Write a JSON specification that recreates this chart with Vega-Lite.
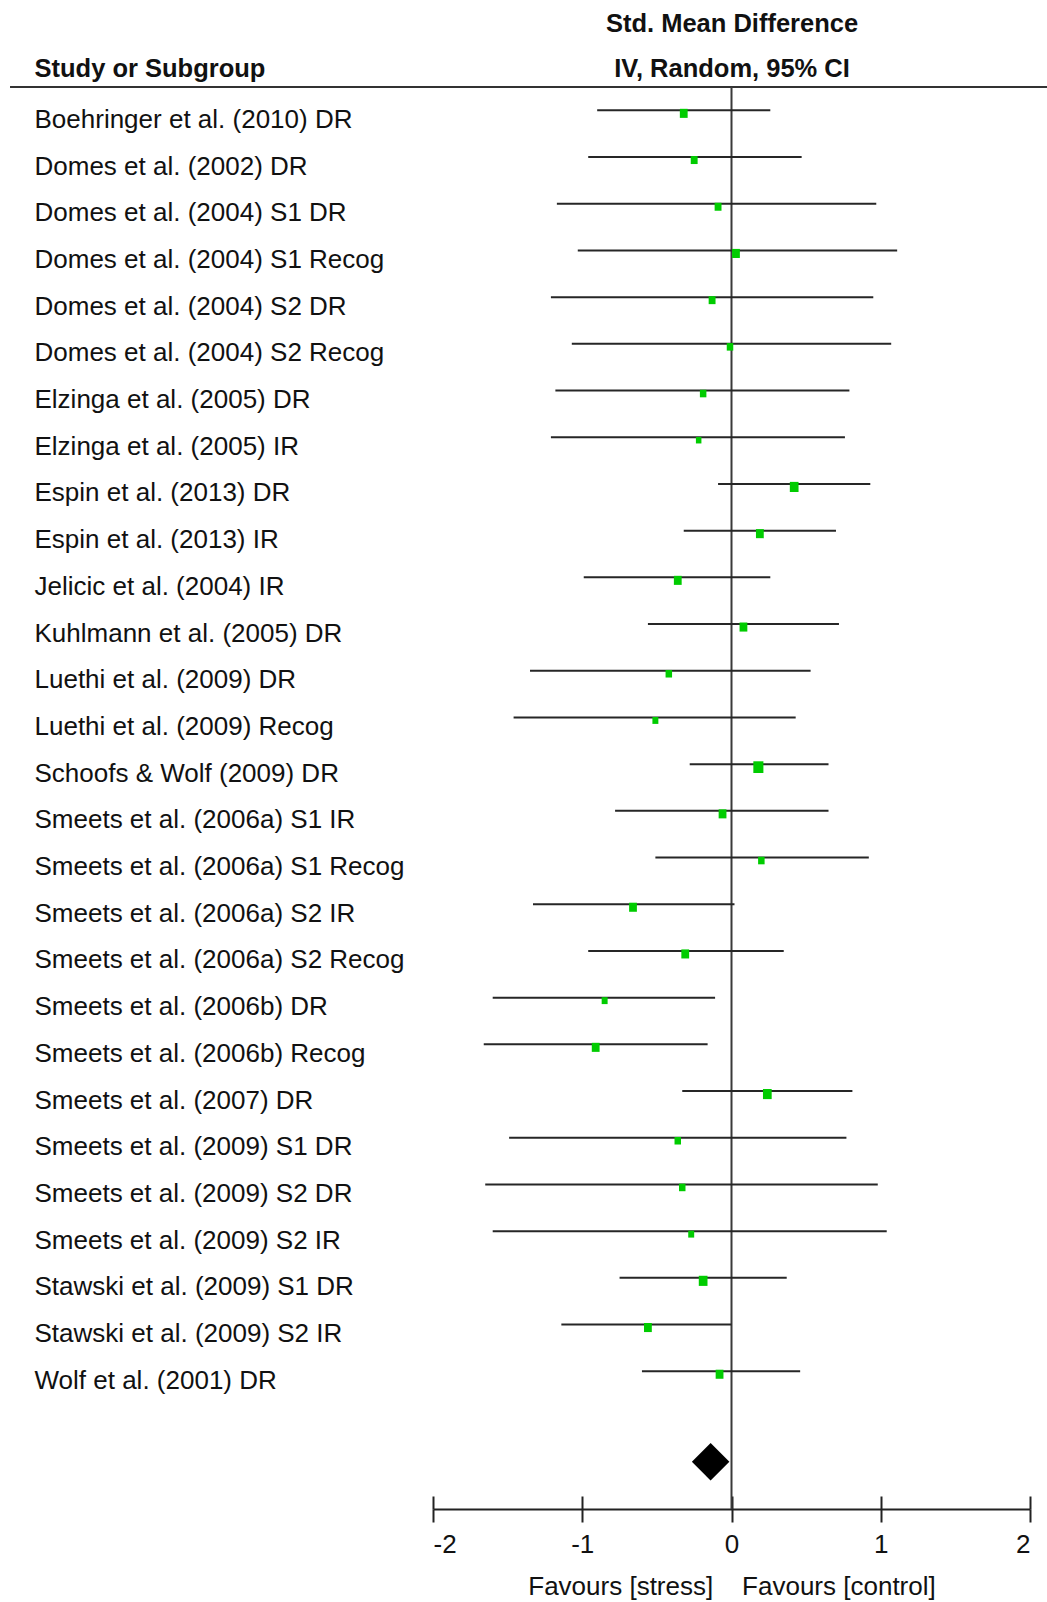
{
  "$schema": "https://vega.github.io/schema/vega-lite/v6.json",
  "width": 597,
  "height": 1422,
  "autosize": {"type": "none"},
  "padding": {"left": 433, "top": 87, "right": 17, "bottom": 93},
  "background": "white",
  "config": {"view": {"stroke": null}, "font": "Liberation Sans"},
  "datasets": {
    "studies": [
      {"study": "Boehringer et al. (2010) DR", "smd": -0.32, "lower": -0.90, "upper": 0.26, "weight": 3.6},
      {"study": "Domes et al. (2002) DR", "smd": -0.25, "lower": -0.96, "upper": 0.47, "weight": 2.8},
      {"study": "Domes et al. (2004) S1 DR", "smd": -0.09, "lower": -1.17, "upper": 0.97, "weight": 2.8},
      {"study": "Domes et al. (2004) S1 Recog", "smd": 0.03, "lower": -1.03, "upper": 1.11, "weight": 3.6},
      {"study": "Domes et al. (2004) S2 DR", "smd": -0.13, "lower": -1.21, "upper": 0.95, "weight": 2.8},
      {"study": "Domes et al. (2004) S2 Recog", "smd": -0.01, "lower": -1.07, "upper": 1.07, "weight": 2.5},
      {"study": "Elzinga et al. (2005) DR", "smd": -0.19, "lower": -1.18, "upper": 0.79, "weight": 2.5},
      {"study": "Elzinga et al. (2005) IR", "smd": -0.22, "lower": -1.21, "upper": 0.76, "weight": 1.8},
      {"study": "Espin et al. (2013) DR", "smd": 0.42, "lower": -0.09, "upper": 0.93, "weight": 4.5},
      {"study": "Espin et al. (2013) IR", "smd": 0.19, "lower": -0.32, "upper": 0.70, "weight": 3.6},
      {"study": "Jelicic et al. (2004) IR", "smd": -0.36, "lower": -0.99, "upper": 0.26, "weight": 3.6},
      {"study": "Kuhlmann et al. (2005) DR", "smd": 0.08, "lower": -0.56, "upper": 0.72, "weight": 3.6},
      {"study": "Luethi et al. (2009) DR", "smd": -0.42, "lower": -1.35, "upper": 0.53, "weight": 2.5},
      {"study": "Luethi et al. (2009) Recog", "smd": -0.51, "lower": -1.46, "upper": 0.43, "weight": 2.1},
      {"study": "Schoofs & Wolf (2009) DR", "smd": 0.18, "lower": -0.28, "upper": 0.65, "weight": 6.0},
      {"study": "Smeets et al. (2006a) S1 IR", "smd": -0.06, "lower": -0.78, "upper": 0.65, "weight": 3.6},
      {"study": "Smeets et al. (2006a) S1 Recog", "smd": 0.20, "lower": -0.51, "upper": 0.92, "weight": 2.5},
      {"study": "Smeets et al. (2006a) S2 IR", "smd": -0.66, "lower": -1.33, "upper": 0.02, "weight": 3.6},
      {"study": "Smeets et al. (2006a) S2 Recog", "smd": -0.31, "lower": -0.96, "upper": 0.35, "weight": 3.6},
      {"study": "Smeets et al. (2006b) DR", "smd": -0.85, "lower": -1.60, "upper": -0.11, "weight": 2.1},
      {"study": "Smeets et al. (2006b) Recog", "smd": -0.91, "lower": -1.66, "upper": -0.16, "weight": 3.6},
      {"study": "Smeets et al. (2007) DR", "smd": 0.24, "lower": -0.33, "upper": 0.81, "weight": 4.5},
      {"study": "Smeets et al. (2009) S1 DR", "smd": -0.36, "lower": -1.49, "upper": 0.77, "weight": 2.5},
      {"study": "Smeets et al. (2009) S2 DR", "smd": -0.33, "lower": -1.65, "upper": 0.98, "weight": 2.5},
      {"study": "Smeets et al. (2009) S2 IR", "smd": -0.27, "lower": -1.60, "upper": 1.04, "weight": 2.1},
      {"study": "Stawski et al. (2009) S1 DR", "smd": -0.19, "lower": -0.75, "upper": 0.37, "weight": 4.5},
      {"study": "Stawski et al. (2009) S2 IR", "smd": -0.56, "lower": -1.14, "upper": 0.00, "weight": 3.6},
      {"study": "Wolf et al. (2001) DR", "smd": -0.08, "lower": -0.60, "upper": 0.46, "weight": 3.6}
    ],
    "pooled": [
      {"study": "Total", "smd": -0.14, "lower": -0.27, "upper": -0.02}
    ]
  },
  "layer": [
    {
      "data": {"name": "pooled"},
      "mark": {"type": "rule", "strokeWidth": 2, "color": "#333333"},
      "encoding": {
        "x": {"datum": -4.834, "type": "quantitative", "scale": {"domain": [-2, 2], "nice": false, "zero": false}, "axis": null},
        "x2": {"datum": 2.114},
        "y": {"datum": "Boehringer et al. (2010) DR", "type": "nominal", "bandPosition": 0,
              "scale": {"type": "band", "domain": ["Boehringer et al. (2010) DR", "Domes et al. (2002) DR", "Domes et al. (2004) S1 DR", "Domes et al. (2004) S1 Recog", "Domes et al. (2004) S2 DR", "Domes et al. (2004) S2 Recog", "Elzinga et al. (2005) DR", "Elzinga et al. (2005) IR", "Espin et al. (2013) DR", "Espin et al. (2013) IR", "Jelicic et al. (2004) IR", "Kuhlmann et al. (2005) DR", "Luethi et al. (2009) DR", "Luethi et al. (2009) Recog", "Schoofs & Wolf (2009) DR", "Smeets et al. (2006a) S1 IR", "Smeets et al. (2006a) S1 Recog", "Smeets et al. (2006a) S2 IR", "Smeets et al. (2006a) S2 Recog", "Smeets et al. (2006b) DR", "Smeets et al. (2006b) Recog", "Smeets et al. (2007) DR", "Smeets et al. (2009) S1 DR", "Smeets et al. (2009) S2 DR", "Smeets et al. (2009) S2 IR", "Stawski et al. (2009) S1 DR", "Stawski et al. (2009) S2 IR", "Wolf et al. (2001) DR", "gap", "Total"], "paddingInner": 0, "paddingOuter": 0.225, "align": 0}}
      }
    },
    {
      "data": {"name": "pooled"},
      "mark": {"type": "rule", "strokeWidth": 2, "color": "#3a3a3a"},
      "encoding": {
        "x": {"datum": 0, "type": "quantitative", "scale": {"domain": [-2, 2], "nice": false, "zero": false},
              "axis": {"orient": "top", "title": ["Std. Mean Difference", "IV, Random, 95% CI"], "titleX": 298.5, "titleY": -55.3, "titleAlign": "center", "titleAnchor": null, "titleAngle": 0, "titleBaseline": "alphabetic", "titleLineHeight": 45, "titleFontSize": 25.5, "titleFontWeight": "bold", "titleColor": "#111111", "titleFont": "Liberation Sans", "domain": false, "ticks": false, "labels": false, "grid": false}}
      }
    },
    {
      "data": {"name": "studies"},
      "mark": {"type": "rule", "strokeWidth": 2, "color": "#262626"},
      "encoding": {
        "y": {"field": "study", "type": "nominal",
              "scale": {"type": "band", "domain": ["Boehringer et al. (2010) DR", "Domes et al. (2002) DR", "Domes et al. (2004) S1 DR", "Domes et al. (2004) S1 Recog", "Domes et al. (2004) S2 DR", "Domes et al. (2004) S2 Recog", "Elzinga et al. (2005) DR", "Elzinga et al. (2005) IR", "Espin et al. (2013) DR", "Espin et al. (2013) IR", "Jelicic et al. (2004) IR", "Kuhlmann et al. (2005) DR", "Luethi et al. (2009) DR", "Luethi et al. (2009) Recog", "Schoofs & Wolf (2009) DR", "Smeets et al. (2006a) S1 IR", "Smeets et al. (2006a) S1 Recog", "Smeets et al. (2006a) S2 IR", "Smeets et al. (2006a) S2 Recog", "Smeets et al. (2006b) DR", "Smeets et al. (2006b) Recog", "Smeets et al. (2007) DR", "Smeets et al. (2009) S1 DR", "Smeets et al. (2009) S2 DR", "Smeets et al. (2009) S2 IR", "Stawski et al. (2009) S1 DR", "Stawski et al. (2009) S2 IR", "Wolf et al. (2001) DR", "gap", "Total"], "paddingInner": 0, "paddingOuter": 0.225, "align": 0},
              "axis": {"orient": "left", "title": "Study or Subgroup", "titleAngle": 0, "titleAlign": "left", "titleAnchor": null, "titleBaseline": "alphabetic", "titleX": -399, "titleY": -10.5, "titleFontSize": 25.5, "titleFontWeight": "bold", "titleColor": "#111111", "titleFont": "Liberation Sans", "domain": false, "ticks": false, "tickSize": 0, "labelAlign": "left", "labelBaseline": "alphabetic", "labelPadding": 399, "labelOffset": 17.5, "labelFontSize": 26, "labelFont": "Liberation Sans", "labelColor": "#111111", "labelLimit": 600, "labelOverlap": false, "labelBound": false, "labelExpr": "datum.value == 'gap' || datum.value == 'Total' ? '' : datum.value", "grid": false}},
        "x": {"field": "lower", "type": "quantitative", "scale": {"domain": [-2, 2], "nice": false, "zero": false},
              "axis": {"orient": "bottom", "values": [-2, -1, 0, 1, 2], "labelExpr": "'' + datum.value", "domain": true, "domainColor": "#222222", "domainWidth": 2, "ticks": true, "tickSize": 13, "tickWidth": 2, "tickColor": "#222222", "labelFontSize": 26, "labelFont": "Liberation Sans", "labelColor": "#111111", "labelBaseline": "alphabetic", "labelPadding": 30, "labelFlush": true, "labelFlushOffset": 0, "grid": false,
                       "title": "Favours [stress]\u00a0\u00a0\u00a0\u00a0Favours [control]", "titleX": 298.5, "titleY": 85, "titleAlign": "center", "titleAnchor": null, "titleBaseline": "alphabetic", "titleFontSize": 26, "titleFontWeight": "normal", "titleColor": "#111111", "titleFont": "Liberation Sans"}},
        "x2": {"field": "upper"}
      }
    },
    {
      "data": {"name": "studies"},
      "mark": {"type": "point", "filled": true, "opacity": 1, "color": "#00cc00", "strokeWidth": 0, "shape": "M-0.86,-1H0.86V1H-0.86Z", "yOffset": 3},
      "encoding": {
        "y": {"field": "study", "type": "nominal"},
        "x": {"field": "smd", "type": "quantitative", "scale": {"domain": [-2, 2], "nice": false, "zero": false},
              "axis": {"orient": "bottom", "values": [-2, -1, 0, 1, 2], "tickSize": -13, "tickWidth": 2, "tickColor": "#222222", "ticks": true, "labels": false, "domain": false, "title": null, "grid": false}},
        "size": {"field": "weight", "type": "quantitative", "scale": {"type": "linear", "domain": [0, 6], "range": [0, 137]}, "legend": null}
      }
    },
    {
      "data": {"name": "pooled"},
      "mark": {"type": "point", "filled": true, "opacity": 1, "color": "#000000", "strokeWidth": 0, "shape": "diamond", "size": 1406, "yOffset": -3},
      "encoding": {
        "y": {"field": "study", "type": "nominal"},
        "x": {"field": "smd", "type": "quantitative", "scale": {"domain": [-2, 2], "nice": false, "zero": false}, "axis": null}
      }
    }
  ],
  "resolve": {"axis": {"x": "independent"}}
}
